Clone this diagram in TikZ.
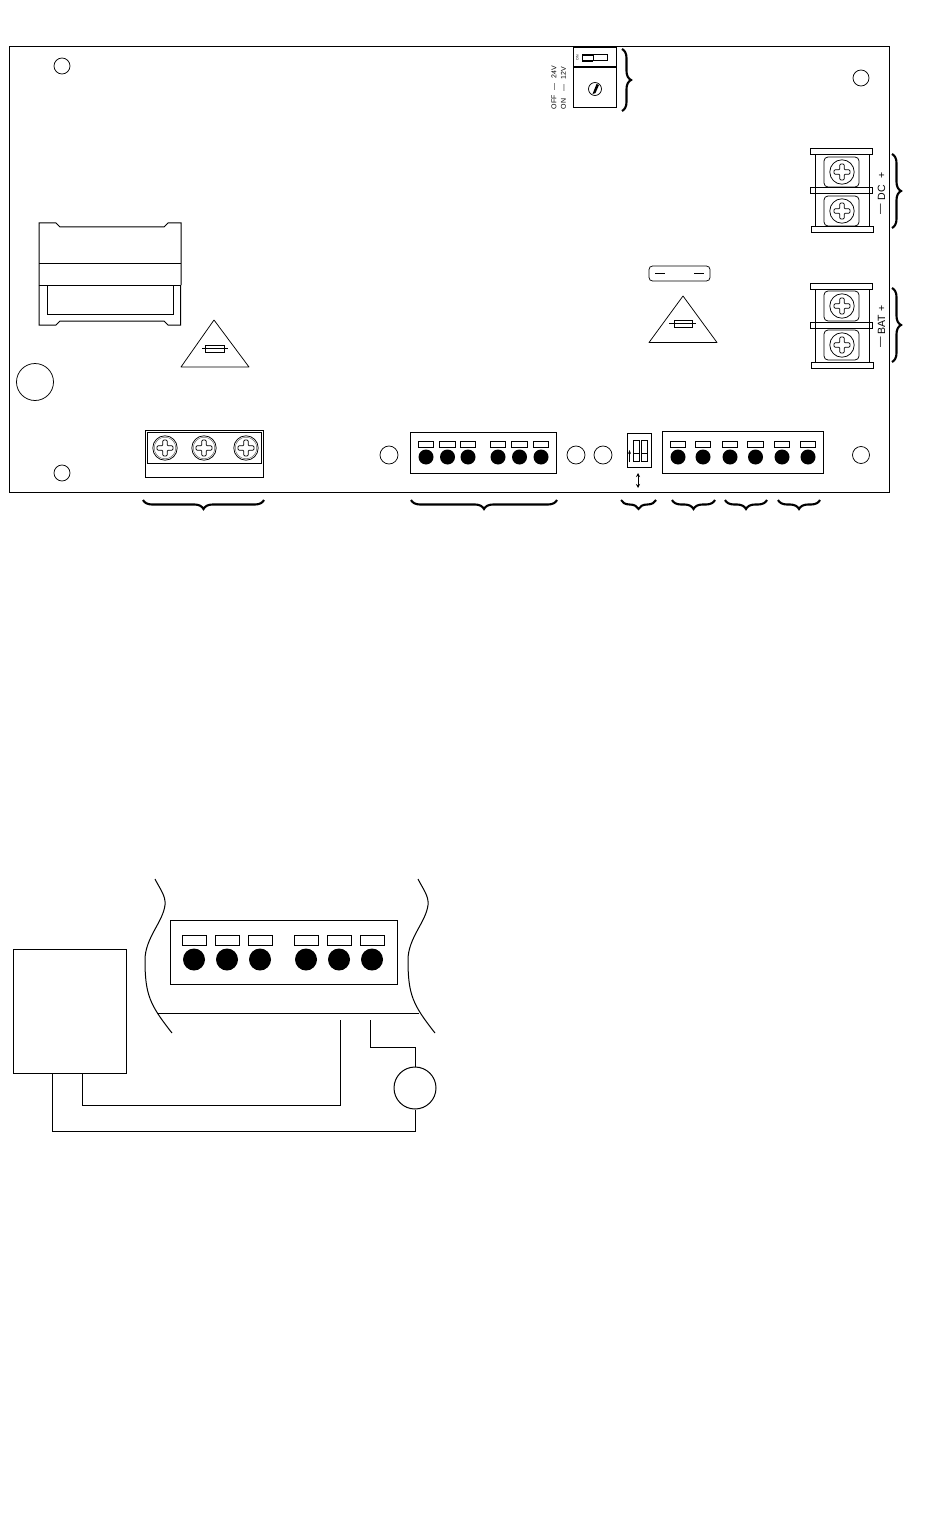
\documentclass[tikz,border=0pt]{standalone}
\usepackage{fontspec}
\setmainfont{Liberation Sans}
\usetikzlibrary{decorations.pathreplacing,arrows.meta}
\tikzset{
  x=1pt,y=-1pt,
  ln/.style={line width=1pt,black},
  thin line/.style={line width=0.75pt,black},
  brc/.style={line width=2.1pt,black,decorate,decoration={brace,amplitude=#1,aspect=0.5}},
  brc/.default=9pt,
  hole/.style={thin line},
  lbl/.style={inner sep=0pt,rotate=90,font=\fontsize{7}{8}\selectfont},
  lblb/.style={inner sep=0pt,rotate=90,font=\fontsize{10.5}{11}\selectfont},
  dev/.style={draw,ln,circle,inner sep=0pt,minimum size=42pt},
}
\newcommand{\plusshape}[2]{%
  \draw[thin line,rounded corners=1pt] (#1-2.2,#2-8) -- (#1+2.2,#2-8) -- (#1+2.2,#2-2.2) -- (#1+8,#2-2.2) -- (#1+8,#2+2.2) -- (#1+2.2,#2+2.2) -- (#1+2.2,#2+8) -- (#1-2.2,#2+8) -- (#1-2.2,#2+2.2) -- (#1-8,#2+2.2) -- (#1-8,#2-2.2) -- (#1-2.2,#2-2.2) -- cycle;}
\newcommand{\screwa}[2]{%
  \draw[thin line] (#1,#2) circle (12.2);
  \draw[line width=0.4pt,black!70] (#1,#2) circle (10.8);
  \plusshape{#1}{#2}}
\newcommand{\screwb}[2]{%
  \draw[thin line] (#1,#2) circle (12.2);
  \plusshape{#1}{#2}
  \draw[thin line,rounded corners=4pt] (#1-18,#2-15) rectangle (#1+17,#2+15);}
\newcommand{\cont}[3]{%
  \draw[ln] (#1-8,#2-15.5) rectangle (#1+7.5,#2-9.5);
  \fill[black] (#1,#2) circle (#3);}
\begin{document}
\begin{tikzpicture}
\useasboundingbox (0,0) rectangle (950,1514);
\fill[white] (0,0) rectangle (950,1514);
% board
\draw[line width=1pt] (9.5,46.5) rectangle (889,492);
\foreach \x/\y/\r in {62/66/8,861/78/8,62/473/8,389/455/9,576/455/9,603/455/9,861/455/8.5,35/382/18.5}
  \draw[hole] (\x,\y) circle (\r);
% jumper block
\draw[ln] (573,48) rectangle (616.5,67);
\draw[ln] (573,68) rectangle (616.5,108);
\draw[ln] (582,55) rectangle (607,61);
\draw[ln] (593,55) -- (593,61);
\draw[line width=1.8pt] (582,55.3) -- (593,55.3) (582,60.7) -- (593,60.7);
\draw[thin line] (595,89) circle (6.5);
\fill (592.5,94) -- (595.5,93) -- (599,85) -- (596.5,84) -- cycle;
\node[inner sep=0pt,rotate=90,font=\fontsize{3.5}{4}\selectfont] (jon) at (577.5,57.5) {ON};
\node[lbl,anchor=west] (j24) at (554,109.5) {OFF\ \ \,—\ \ \,24V};
\node[lbl,anchor=west] (j12) at (563.5,109.5) {ON\ \ \ \,—\ \ \,12V};
\draw[brc] (622,49) -- (622,111);
% DC terminal
\draw[ln] (815,155) rectangle (869,227);
\draw[ln] (810,149) rectangle (872.5,155);
\draw[ln] (810,188) rectangle (872.5,194);
\draw[ln] (811,227) rectangle (873.5,233);
\screwb{842}{172}
\screwb{842}{211}
\node[lblb] (dcp) at (882,175) {+};
\node[lblb] (dc) at (881.5,192.5) {DC};
\node[lblb] (dcm) at (881.5,209) {—};
\draw[brc] (892,154) -- (892,228);
% BAT terminal
\draw[ln] (815,289) rectangle (869,362);
\draw[ln] (810,283) rectangle (872.5,289);
\draw[ln] (810,322) rectangle (872.5,328);
\draw[ln] (811,362) rectangle (873.5,368);
\screwb{842}{306}
\screwb{842}{345}
\node[lblb] (batp) at (882,308) {+};
\node[lblb] (bat) at (881.5,325) {BAT};
\node[lblb] (batm) at (881.5,342.5) {—};
\draw[brc] (892,288) -- (892,362);
% fuse clip and right triangle
\draw[thin line,rounded corners=3.5pt] (649,266) rectangle (710,281);
\draw[thin line] (655,273) -- (665,273) (694,273) -- (704,273);
\draw[thin line,line join=round] (683,296) -- (649,342.5) -- (717,342.5) -- cycle;
\draw[thin line] (674,320) rectangle (692,327);
\draw[thin line] (669,323.5) -- (696,323.5);
% transformer
\draw[ln] (39,285) -- (39,223) -- (56,223) -- (60,227) -- (164,227) -- (168,223) -- (181,223) -- (181,285);
\draw[ln] (39,263) -- (181,263);
\draw[ln] (39,285) -- (181,285);
\draw[ln] (39,285) -- (39,325) -- (56,325) -- (60,321) -- (164,321) -- (168,325) -- (180.5,325) -- (180.5,285);
\draw[ln] (47,285) -- (47,314) -- (173,314) -- (173,285);
% left triangle
\draw[thin line,line join=round] (214,320) -- (181,367) -- (249,367) -- cycle;
\draw[thin line] (205,345) rectangle (224,352);
\draw[thin line] (202,348) -- (228,348);
% AC terminal
\draw[ln] (145,430) rectangle (263,477);
\draw[ln] (147,432) rectangle (261,463);
\screwa{165}{448}
\screwa{204}{448}
\screwa{246}{448}
\draw[brc] (264,500) -- (143,500);
% relay block
\draw[ln] (410,432) rectangle (556,473);
\foreach \x in {426,447.5,468,498,519.5,541} {\cont{\x}{457}{7.5}}
\draw[brc] (557,500) -- (411,500);
% dip switch
\draw[ln] (627,433) rectangle (651,467);
\draw[ln] (633.5,440) rectangle (639,461);
\draw[ln] (641,440) rectangle (647,461);
\draw[ln] (633.5,453) -- (639,453);
\draw[ln] (641,453) -- (647,453);
\draw[thin line,-{Stealth[length=4pt,width=3pt]}] (629.5,462) -- (629.5,450);
\draw[thin line,{Stealth[length=4pt,width=4pt]}-{Stealth[length=4pt,width=4pt]}] (638,473) -- (638,488);
\draw[brc] (656,500) -- (621,500);
% right block
\draw[ln] (662,431) rectangle (823,473);
\foreach \x in {678,703,730,755.5,782,808} {\cont{\x}{457}{7.5}}
\draw[brc] (715,500) -- (672,500);
\draw[brc] (767,500) -- (725,500);
\draw[brc] (820,500) -- (778,500);
% wiring detail
\node[draw,ln,minimum width=113pt,minimum height=124pt,inner sep=0pt] (src) at (69.5,1011) {};
\node[dev] (meter) at (415,1088) {};
\draw[ln] (155,879) .. controls (160,889) and (166,896) .. (165,905) .. controls (163,922) and (145,938) .. (145,960) .. controls (145,995) and (150,1005) .. (172,1033);
\draw[ln] (418,879) .. controls (423,889) and (429,896) .. (428,905) .. controls (426,922) and (408,938) .. (408,960) .. controls (408,995) and (413,1005) .. (435,1033);
\draw[ln] (157,1013) -- (419,1013);
\draw[ln] (170.5,920) rectangle (397,984.5);
\foreach \x in {194,227,260,306,339,372} {
  \draw[ln] (\x-12,935) rectangle (\x+12,945);
  \fill[black] (\x,959.5) circle (11);
}
\coordinate (p1) at (340,1020);
\coordinate (p2) at (370,1020);
\coordinate (s1) at (82,1073);
\coordinate (s2) at (52,1073);
\coordinate (c1) at (340,1105);
\coordinate (c2) at (415,1131);
\coordinate (c3) at (415,1047);
\draw[ln] (s1) |- (c1) -- (p1);
\draw[ln] (s2) |- (c2) -- (meter.south);
\draw[ln] (p2) |- (c3) -- (meter.north);
\end{tikzpicture}
\end{document}
